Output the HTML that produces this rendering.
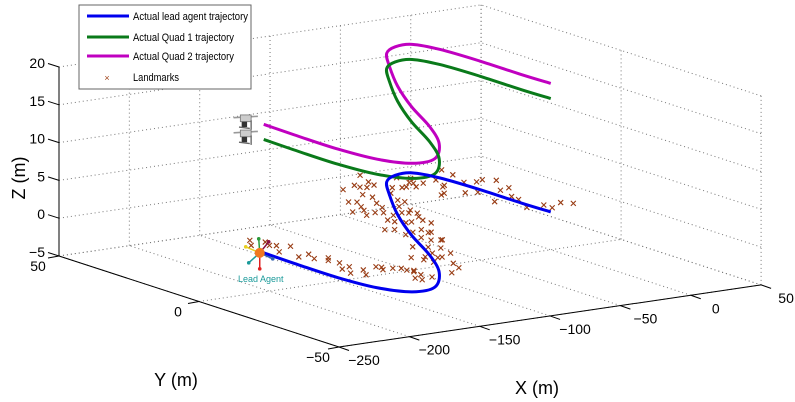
<!DOCTYPE html>
<html><head><meta charset="utf-8"><style>
html,body{margin:0;padding:0;background:#fff;}
svg{display:block;font-family:"Liberation Sans",Arial,sans-serif;}
</style></head><body>
<svg id="chart" width="795" height="402" viewBox="0 0 795 402" xmlns="http://www.w3.org/2000/svg">
<g id="grid"></g>
<g id="axes"></g>
<g id="marks"></g>
<g id="legend">
  <rect x="79" y="5" width="172" height="84" fill="#fff" stroke="#666" stroke-width="1"/>
  <g>
    <line x1="87" y1="16" x2="129" y2="16" stroke="#0000ee" stroke-width="3"/>
    <text x="133" y="20" font-size="11" textLength="115" lengthAdjust="spacingAndGlyphs">Actual lead agent trajectory</text>
  </g>
  <g>
    <line x1="87" y1="37" x2="129" y2="37" stroke="#0a7a1a" stroke-width="3"/>
    <text x="133" y="41" font-size="11" textLength="101" lengthAdjust="spacingAndGlyphs">Actual Quad 1 trajectory</text>
  </g>
  <g>
    <line x1="87" y1="56" x2="129" y2="56" stroke="#c000c0" stroke-width="3"/>
    <text x="133" y="60" font-size="11" textLength="101" lengthAdjust="spacingAndGlyphs">Actual Quad 2 trajectory</text>
  </g>
  <g>
    <text x="107" y="81" font-size="9" fill="#a0441a" text-anchor="middle">×</text>
    <text x="133" y="81" font-size="11" textLength="46" lengthAdjust="spacingAndGlyphs">Landmarks</text>
  </g>
</g>
<text x="0" y="0" font-size="18" transform="translate(25,178) rotate(-90)" text-anchor="middle">Z (m)</text>
<text x="176" y="386" font-size="18" text-anchor="middle">Y (m)</text>
<text x="537" y="394" font-size="18" text-anchor="middle">X (m)</text>
</svg>
<script>
// ---- data ----
const xTicks = [-250, -200, -150, -100, -50, 0, 50];
const yTicks = [-50, 0, 50];
const zTicks = [-5, 0, 5, 10, 15, 20];
const pathX = [-202, -203, -203, -199, -188, -170, -145, -124, -103, -79, -53, -35, -21, -9, -3, -1, -1, 0];
const pathY = [1, -12, -26, -38, -45, -44, -33, -19, -2, 15, 31, 41, 45, 45, 38, 25, 10, 0];
const leadZ = [0, 0, 0, 0, 0, 0, 0, 0, 0, 0, 0, 0, 0, 0, 0, 0, 0, 0];
const quad1Z = [15, 15, 15, 15, 15, 15, 15, 15, 15, 15, 15, 15, 15, 15, 15, 15, 15, 15];
const quad2Z = [17, 17, 17, 17, 17, 17, 17, 17, 17, 17, 17, 17, 17, 17, 17, 17, 17, 17];
const landmarkX = [-185,-185,-179,-193,-191,-182,-186,-178,-182,-180,-188,-181,-190,-179,-185,-168,-166,-169,-162,-158,-158,-155,-166,-158,-156,-137,-134,-133,-124,-108,-95,-101,-113,-102,-98,-90,-89,-105,-83,-87,-103,-108,-92,-91,-82,-74,-66,-66,-56,-57,-83,-87,-95,-89,-97,-84,-80,-66,-65,-53,-56,-68,-56,-44,-46,-72,-76,-50,-41,-33,-25,-28,-19,-18,-24,-38,-8,-15,-24,-75,-75,-67,-85,-36,-24,-71,-72,-91,-96,-120,-129,-120,-121,-111,-125,-129,-140,-157,-165,10,8,2,9,15,21,16,-12,4,-5,7,19,24,-28,-12,-13,-6,8,3,7,-190,-197,-188];
const landmarkY = [9,5,3,0,-6,-5,-9,-10,-12,-15,-20,-19,-24,-23,-27,-22,-23,-25,-25,-26,-28,-29,-35,-33,-36,-19,-22,-25,-22,-15,-9,-8,-13,-5,0,1,-2,-1,8,8,4,5,12,10,15,16,17,21,24,26,18,19,18,22,22,30,29,34,31,39,40,40,42,43,40,26,22,32,36,35,38,34,36,41,43,49,37,31,26,8,5,14,25,35,37,15,11,-2,-9,-11,-20,-18,-22,-20,-28,-32,-35,-30,-37,44,39,32,31,32,30,23,14,16,6,6,6,4,25,32,24,23,22,13,3,12,8,6];
const landmarkZ = 0;

// ---- projection (x,y,z) -> pixel ----
function px(x, y, z) { return 59 + (x + 250) * 1.407 + (50 - y) * 2.8; }
function py(x, y, z) { return 256 - (x + 250) * 0.207 + (50 - y) * 0.91 - (z + 5) * 7.56; }

const NS = 'http://www.w3.org/2000/svg';
function mk(tag, attrs, parent) {
  const e = document.createElementNS(NS, tag);
  for (const k in attrs) e.setAttribute(k, attrs[k]);
  parent.appendChild(e);
  return e;
}
const grid = document.getElementById('grid');
const axes = document.getElementById('axes');
const marks = document.getElementById('marks');
const X0 = xTicks[0], X1 = xTicks[xTicks.length - 1];
const Y0 = yTicks[0], Y1 = yTicks[yTicks.length - 1];
const Z0 = zTicks[0], Z1 = zTicks[zTicks.length - 1];
function gl(a, b) {
  const l = mk('line', {x1: px(...a), y1: py(...a), x2: px(...b), y2: py(...b), stroke: '#777', 'stroke-width': 1, 'stroke-dasharray': '1 3'}, grid);
  
  
}
xTicks.forEach(x => gl([x, Y1, Z0], [x, Y1, Z1]));
zTicks.forEach(z => gl([X0, Y1, z], [X1, Y1, z]));
yTicks.forEach(y => gl([X1, y, Z0], [X1, y, Z1]));
zTicks.forEach(z => gl([X1, Y0, z], [X1, Y1, z]));
xTicks.forEach(x => gl([x, Y0, Z0], [x, Y1, Z0]));
yTicks.forEach(y => gl([X0, y, Z0], [X1, y, Z0]));

function al(a, b, name) {
  const l = mk('line', {x1: px(...a), y1: py(...a), x2: px(...b), y2: py(...b), stroke: '#000', 'stroke-width': 1}, axes);
  
  
}
al([X0, Y1, Z0], [X0, Y1, Z1], 'z-axis-line');
al([X0, Y1, Z0], [X0, Y0, Z0], 'y-axis-line');
al([X0, Y0, Z0], [X1, Y0, Z0], 'x-axis-line');

function tl(x, y, txt, anchor, name) {
  const t = mk('text', {x: x, y: y, 'font-size': 14, 'text-anchor': anchor}, axes);
  t.textContent = txt;
  
  
}
zTicks.forEach(z => {
  const X = px(X0, Y1, z), Y = py(X0, Y1, z);
  const l = mk('line', {x1: X - 11, y1: Y - 3.5, x2: X, y2: Y, stroke: '#000', 'stroke-width': 1}, axes);
  
  
  tl(X - 14, Y + 1, String(z).replace('-', '\u2212'), 'end', 'z-tick-label');
});
yTicks.forEach(y => {
  const X = px(X0, y, Z0), Y = py(X0, y, Z0);
  const l = mk('line', {x1: X - 11, y1: Y + 2, x2: X, y2: Y, stroke: '#000', 'stroke-width': 1}, axes);
  
  
  tl(X - 21, Y + 15, String(y).replace('-', '\u2212'), 'middle', 'y-tick-label');
});
xTicks.forEach(x => {
  const X = px(x, Y0, Z0), Y = py(x, Y0, Z0);
  const l = mk('line', {x1: X, y1: Y, x2: X + 10, y2: Y + 3.5, stroke: '#000', 'stroke-width': 1}, axes);
  
  
  tl(X + 25, Y + 18, String(x).replace('-', '\u2212'), 'middle', 'x-tick-label');
});

for (let i = 0; i < landmarkX.length; i++) {
  const X = px(landmarkX[i], landmarkY[i], landmarkZ), Y = py(landmarkX[i], landmarkY[i], landmarkZ);
  const m = mk('path', {d: `M${X-2.5},${Y-2.5}L${X+2.5},${Y+2.5}M${X-2.5},${Y+2.5}L${X+2.5},${Y-2.5}`, stroke: '#983c14', 'stroke-width': 1.1, fill: 'none'}, marks);
  
  
}

function smoothPath(zs) {
  const P = pathX.map((x, i) => [px(x, pathY[i], zs[i]), py(x, pathY[i], zs[i])]);
  let d = `M${P[0][0]},${P[0][1]}`;
  for (let i = 0; i < P.length - 1; i++) {
    const p0 = P[Math.max(0, i - 1)], p1 = P[i], p2 = P[i + 1], p3 = P[Math.min(P.length - 1, i + 2)];
    const c1 = [p1[0] + (p2[0] - p0[0]) / 6, p1[1] + (p2[1] - p0[1]) / 6];
    const c2 = [p2[0] - (p3[0] - p1[0]) / 6, p2[1] - (p3[1] - p1[1]) / 6];
    d += `C${c1[0]},${c1[1]} ${c2[0]},${c2[1]} ${p2[0]},${p2[1]}`;
  }
  return d;
}
const sQ2 = mk('path', {d: smoothPath(quad2Z), stroke: '#c000c0', 'stroke-width': 3, fill: 'none'}, marks);


const sQ1 = mk('path', {d: smoothPath(quad1Z), stroke: '#0a7a1a', 'stroke-width': 3, fill: 'none'}, marks);


const sL = mk('path', {d: smoothPath(leadZ), stroke: '#0000ee', 'stroke-width': 3, fill: 'none'}, marks);



[quad1Z, quad2Z].forEach((zs, k) => {
  const X = px(pathX[0], pathY[0], zs[0]) - 18, Y = py(pathX[0], pathY[0], zs[0]) - 4;
  const g = mk('g', {transform: `translate(${X},${Y}) scale(1.35)`}, marks);
  
  
  mk('line', {x1: -9, y1: -2, x2: 9, y2: -3, stroke: '#999', 'stroke-width': 1.2}, g);
  mk('rect', {x: -4, y: -4, width: 8, height: 5, fill: '#ccc', stroke: '#777', 'stroke-width': 0.6}, g);
  mk('rect', {x: -3, y: 1, width: 4, height: 4, fill: '#333'}, g);
  mk('line', {x1: -5, y1: 5, x2: 3, y2: 6, stroke: '#666', 'stroke-width': 1}, g);
  mk('line', {x1: 4, y1: 0, x2: 4, y2: 7, stroke: '#666', 'stroke-width': 1}, g);
});

(function () {
  const X = px(pathX[0], pathY[0], leadZ[0]) - 4, Y = py(pathX[0], pathY[0], leadZ[0]);
  const g = mk('g', {}, marks);
  
  
  const arrows = [[-14, -6, '#e8d020'], [-1, -14, '#2a9a3a'], [9, -11, '#8a1040'], [13, 6, '#3060b0'], [-11, 10, '#1a9a9a'], [0, 16, '#e02020']];
  arrows.forEach(a => {
    mk('line', {x1: X, y1: Y, x2: X + a[0], y2: Y + a[1], stroke: a[2], 'stroke-width': 1.5}, g);
    mk('circle', {cx: X + a[0], cy: Y + a[1], r: 1.8, fill: a[2]}, g);
  });
  mk('circle', {cx: X, cy: Y, r: 5, fill: '#f07820'}, g);
  const t = mk('text', {x: X + 1, y: Y + 29, 'font-size': 9, fill: '#1a9a9a', 'text-anchor': 'middle'}, g);
  t.textContent = 'Lead Agent';
  
  
})();
</script>
</body></html>
